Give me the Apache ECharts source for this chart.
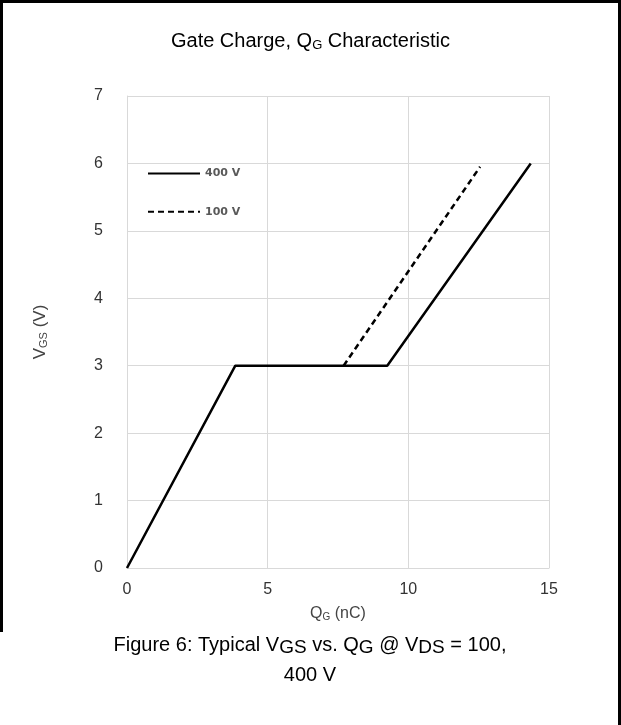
<!DOCTYPE html>
<html>
<head>
<meta charset="utf-8">
<script src="https://cdn.jsdelivr.net/npm/echarts@6/dist/echarts.min.js"></script>
<style>
  html, body { margin: 0; padding: 0; background: #fff; }
  #chart { width: 621px; height: 725px; }
</style>
</head>
<body>
<div id="chart"></div>
<script>
  // data
  var seriesNames = ['400 V', '100 V'];
  var qg400 = [0, 3.85, 9.25, 14.35];
  var vgs400 = [0, 3, 3, 6];
  var qg100 = [7.7, 12.55];
  var vgs100 = [3, 5.95];
  var xTicks = [0, 5, 10, 15];
  var yTicks = [0, 1, 2, 3, 4, 5, 6, 7];

  function pairs(xs, ys) {
    var out = [];
    for (var i = 0; i < xs.length; i++) out.push([xs[i], ys[i]]);
    return out;
  }

  var font = 'Liberation Sans, Arial, sans-serif';
  var myChart = echarts.init(document.getElementById('chart'));

  var option = {
    backgroundColor: '#fff',
    animation: false,
    title: {
      text: 'Gate Charge, Q{sub|G} Characteristic',
      left: 'center',
      top: 26,
      textStyle: {
        fontFamily: font, fontSize: 20, fontWeight: 'normal', color: '#000',
        rich: { sub: { fontFamily: font, fontSize: 13, color: '#000', padding: [8, 0, 0, 0] } }
      }
    },
    legend: {
      data: seriesNames,
      orient: 'vertical',
      left: 142,
      top: 163,
      itemWidth: 52,
      itemHeight: 14,
      itemGap: 27,
      itemStyle: { opacity: 0 },
      textStyle: { fontFamily: 'DejaVu Sans, sans-serif', fontSize: 11, fontWeight: 'bold', color: '#595959' }
    },
    grid: { left: 127, right: 72, top: 96, bottom: 157 },
    xAxis: {
      type: 'value',
      min: 0, max: 15, interval: 5,
      name: 'Q{sub|G} (nC)',
      nameLocation: 'middle',
      nameGap: 38,
      nameTextStyle: {
        fontFamily: font, fontSize: 16, color: '#444',
        rich: { sub: { fontFamily: font, fontSize: 10, color: '#444', padding: [6, 0, 0, 0] } }
      },
      axisLine: { show: true, lineStyle: { color: '#d9d9d9', width: 1 } },
      axisTick: { show: false },
      splitLine: { show: true, lineStyle: { color: '#d9d9d9', width: 1 } },
      axisLabel: {
        fontFamily: font, fontSize: 16, color: '#333', margin: 14,
        formatter: function (v) { return xTicks.indexOf(v) >= 0 ? String(v) : ''; }
      }
    },
    yAxis: {
      type: 'value',
      min: 0, max: 7, interval: 1,
      name: 'V{sub|GS} (V)',
      nameLocation: 'middle',
      nameGap: 78,
      nameRotate: 90,
      nameTextStyle: {
        fontFamily: font, fontSize: 17, color: '#444',
        rich: { sub: { fontFamily: font, fontSize: 11, color: '#444', padding: [6, 0, 0, 0] } }
      },
      axisLine: { show: true, lineStyle: { color: '#d9d9d9', width: 1 } },
      axisTick: { show: false },
      splitLine: { show: true, lineStyle: { color: '#d9d9d9', width: 1 } },
      axisLabel: {
        fontFamily: font, fontSize: 16, color: '#333', margin: 24,
        formatter: function (v) { return yTicks.indexOf(v) >= 0 ? String(v) : ''; }
      }
    },
    series: [
      {
        name: seriesNames[0],
        type: 'line',
        data: pairs(qg400, vgs400),
        symbol: 'none',
        color: '#000',
        lineStyle: { color: '#000', width: 2.5, type: 'solid' }
      },
      {
        name: seriesNames[1],
        type: 'line',
        data: pairs(qg100, vgs100),
        symbol: 'none',
        color: '#000',
        lineStyle: { color: '#000', width: 2.5, type: [6, 4] }
      }
    ],
    graphic: [
      // caption under the chart
      {
        type: 'text',
        x: 310, y: 630,
        style: {
          text: 'Figure 6: Typical V{s|GS} vs. Q{s|G} @ V{s|DS} = 100,\n400 V',
          fontFamily: font, fontSize: 20, fill: '#000', lineHeight: 30,
          align: 'center',
          rich: { s: { fontFamily: font, fontSize: 19, fill: '#000', padding: [5, 0, 0, 0] } }
        }
      },
      // outer frame
      { type: 'line', shape: { x1: 0, y1: 1.5, x2: 621, y2: 1.5 }, style: { stroke: '#000', lineWidth: 3 } },
      { type: 'line', shape: { x1: 1.5, y1: 0, x2: 1.5, y2: 632 }, style: { stroke: '#000', lineWidth: 3 } },
      { type: 'line', shape: { x1: 619.5, y1: 0, x2: 619.5, y2: 725 }, style: { stroke: '#000', lineWidth: 3 } }
    ]
  };

  myChart.setOption(option);
</script>
</body>
</html>
